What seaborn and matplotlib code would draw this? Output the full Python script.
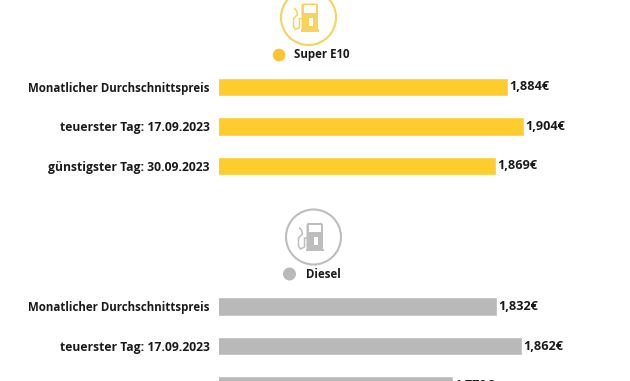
import matplotlib
matplotlib.use("Agg")
import matplotlib.pyplot as plt
from matplotlib.patches import Circle, Rectangle, FancyBboxPatch
import seaborn as sns
import pandas as pd

W, H = 630, 381
categories_e10 = ["Monatlicher Durchschnittspreis", "teuerster Tag: 17.09.2023", "günstigster Tag: 30.09.2023"]
values_e10 = [1.884, 1.904, 1.869]
categories_diesel = ["Monatlicher Durchschnittspreis", "teuerster Tag: 17.09.2023", "günstigster Tag: 30.09.2023"]
values_diesel = [1.832, 1.862, 1.779]
YELLOW = "#FFCC2E"
GRAY = "#B9B9B9"
FONT = "Open Sans"
INK = "#1a1a1a"

sns.set_theme(style="white")
plt.rcParams["font.family"] = [FONT, "DejaVu Sans"]
fig = plt.figure(figsize=(W / 100, H / 100), dpi=100, facecolor="white")


def box(l, t, r, b):
    return [l / W, 1 - b / H, (r - l) / W, (b - t) / H]


def panel(cats, vals, color, rect, xlim):
    ax = fig.add_axes(box(*rect))
    df = pd.DataFrame({"cat": cats, "val": vals})
    sns.barplot(data=df, y="cat", x="val", color=color, width=0.47, saturation=1, ax=ax, orient="h")
    ax.set_xlim(*xlim)
    ax.set_ylim(2.5, -0.5)
    ax.set(xlabel="", ylabel="")
    ax.set_xticks([])
    sns.despine(ax=ax, left=True, bottom=True)
    ax.patch.set_alpha(0)
    ax.tick_params(axis="y", length=0, pad=6.6)
    for i, t in enumerate(ax.get_yticklabels()):
        t.set_fontsize(8.3 if i == 0 else 8.7)
        t.set_fontweight("bold")
        t.set_color(INK)
    ax.bar_label(ax.containers[0], labels=[f"{v:.3f}€".replace(".", ",") for v in vals],
                 padding=1, fontsize=9.1, fontweight="bold", color=INK)
    return ax


# Each panel has its own truncated baseline at pixel 219
panel(categories_e10, values_e10, YELLOW, (219, 67.25, 630, 185.75), (1.52275, 1.52275 + 411 / 800))
panel(categories_diesel, values_diesel, GRAY, (219, 286.75, 630, 405.25), (1.495, 1.495 + 411 / 825))

# Overlay in pixel coordinates for the pump icons and legend dots
ov = fig.add_axes([0, 0, 1, 1])
ov.set_xlim(0, W)
ov.set_ylim(H, 0)
ov.axis("off")
ov.patch.set_alpha(0)


def pump(cx, cy, color, r):
    ov.add_patch(Circle((cx, cy), r, fill=False, ec=color, lw=1.5))
    ov.add_patch(FancyBboxPatch((cx - 7, cy - 14), 16.5, 26.5, boxstyle="round,pad=0,rounding_size=2", fc=color, ec="none"))
    ov.add_patch(Rectangle((cx - 5, cy - 12.5), 12.5, 7.5, fc="white", ec="none"))
    ov.add_patch(Rectangle((cx - 8, cy + 11.5), 18.5, 2.5, fc=color, ec="none"))
    ov.add_patch(Rectangle((cx + 0.5, cy), 4, 8, fc="white", ec="none"))
    ov.plot([cx - 7, cx - 9, cx - 9, cx - 13, cx - 15, cx - 15, cx - 11, cx - 12, cx - 14],
            [cy + 1, cy + 1, cy + 10, cy + 12, cy + 9, cy + 1, cy - 3, cy - 7, cy - 9],
            color=color, lw=1.1, solid_capstyle="round")


pump(308.5, 17.5, "#F6D35A", 27.5)
pump(313.5, 237, "#BDBDBD", 27.5)
ov.add_patch(Circle((279, 55), 6.3, fc="#FBC531", ec="none"))
ov.add_patch(Circle((289.5, 274), 6.5, fc=GRAY, ec="none"))
ov.text(294, 54.5, "Super E10", fontsize=8.3, fontweight="bold", color=INK, va="center", ha="left")
ov.text(306, 274.5, "Diesel", fontsize=8.3, fontweight="bold", color=INK, va="center", ha="left")

fig.savefig("out.png", dpi=100, facecolor="white")
